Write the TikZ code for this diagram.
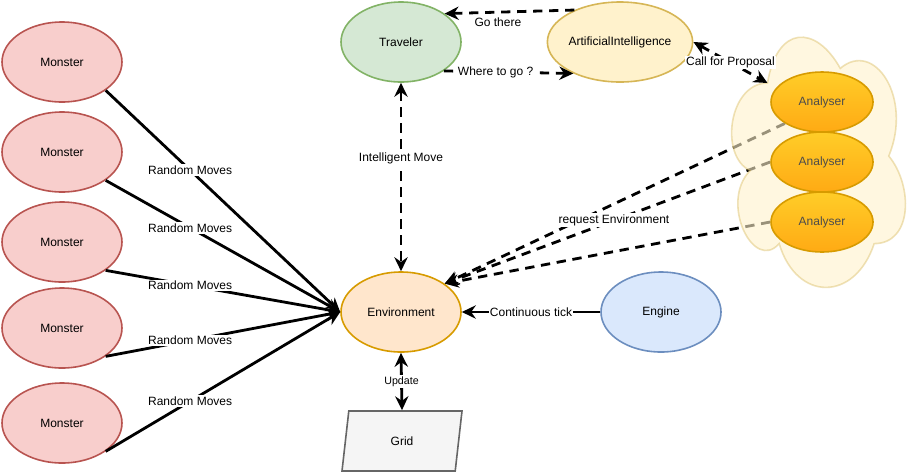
\documentclass[tikz,border=0pt]{standalone}
\usepackage{fontspec}
\setmainfont{Liberation Sans}
\usetikzlibrary{arrows.meta,shapes.geometric}
\definecolor{monfill}{HTML}{F8CECC}\definecolor{mondraw}{HTML}{B85450}
\definecolor{travfill}{HTML}{D5E8D4}\definecolor{travdraw}{HTML}{82B366}
\definecolor{aifill}{HTML}{FFF2CC}\definecolor{aidraw}{HTML}{D6B656}
\definecolor{envfill}{HTML}{FFE6CC}\definecolor{envdraw}{HTML}{D79B00}
\definecolor{engfill}{HTML}{DAE8FC}\definecolor{engdraw}{HTML}{6C8EBF}
\definecolor{gridfill}{HTML}{F5F5F5}\definecolor{griddraw}{HTML}{666666}
\definecolor{antop}{HTML}{FFCD28}\definecolor{anbot}{HTML}{FFAA14}
\pgfdeclarelayer{behind}
\pgfsetlayers{behind,main}
\tikzset{
  blob/.style={ellipse, line width=1.2pt, minimum width=90pt, minimum height=60pt,
    inner sep=0pt, font=\fontsize{9}{11}\selectfont},
  monster/.style={blob, draw=mondraw, fill=monfill},
  analyser/.style={blob, draw=envdraw, top color=antop, bottom color=anbot,
    minimum width=76.5pt, minimum height=45pt, text=black!70},
  link/.style={line width=2.1pt},
  dashy/.style={link, dash pattern=on 7pt off 5pt},
  tag/.style={fill=white, inner sep=1pt, font=\fontsize{9}{11}\selectfont}
}
\begin{document}
\begin{tikzpicture}[x=0.75pt, y=-0.75pt,
    >={Stealth[length=10.5pt,width=10pt,inset=3.5pt]}]
  \useasboundingbox (0,0) rectangle (912,472);
  % left column
  \node[monster] (m1) at (62,62) {Monster};
  \node[monster] (m2) at (62,152) {Monster};
  \node[monster] (m3) at (62,242) {Monster};
  \node[monster] (m4) at (62,328) {Monster};
  \node[monster] (m5) at (62,423) {Monster};
  % middle and top
  \node[blob, draw=travdraw, fill=travfill] (trav) at (401,42) {Traveler};
  \node[blob, draw=aidraw, fill=aifill] (ai) at (620,42) {ArtificialIntelligence};
  \node[blob, draw=envdraw, fill=envfill] (env) at (401,312) {Environment};
  \node[blob, draw=engdraw, fill=engfill] (eng) at (661,312) {Engine};
  \node[trapezium, trapezium left angle=69, trapezium right angle=111,
    trapezium stretches body, minimum width=90pt, minimum height=45pt,
    line width=1.2pt, draw=griddraw, fill=gridfill,
    font=\fontsize{9}{11}\selectfont] (grid) at (402,441) {Grid};
  % the cloud of analysers
  \begin{scope}[shift={(719,10)}, xscale=194, yscale=292]
    \filldraw[fill=aifill, fill opacity=0.6, draw=aidraw, draw opacity=0.4, line width=1.2pt]
      (0.25,0.25) .. controls (0.05,0.25) and (0,0.5) .. (0.16,0.55)
      .. controls (0,0.66) and (0.18,0.9) .. (0.31,0.8)
      .. controls (0.4,1) and (0.7,1) .. (0.8,0.8)
      .. controls (1,0.8) and (1,0.6) .. (0.875,0.5)
      .. controls (1,0.3) and (0.8,0.1) .. (0.625,0.2)
      .. controls (0.5,0.05) and (0.3,0.05) .. (0.25,0.25) -- cycle;
    \coordinate (cloudtip) at (0.25,0.25);
  \end{scope}
  \node[analyser] (an1) at (822,102) {Analyser};
  \node[analyser] (an2) at (822,162) {Analyser};
  \node[analyser] (an3) at (822,222) {Analyser};
  % connectors
  \foreach \m in {m1,m2,m3,m4,m5}
    \draw[link,->] (\m.-33) -- (env.west) node[tag, pos=0.36] {Random Moves};
  \draw[dashy,<->] (trav.south) -- (env.north) node[tag, pos=0.4] {Intelligent Move};
  \draw[link,<->] (env.south) -- (grid.north)
    node[tag, midway, font=\fontsize{8}{10}\selectfont] {Update};
  \draw[link,->] (eng.west) -- (env.east) node[tag, midway] {Continuous tick};
  \draw[dashy,->] (ai.145) -- (trav.33) node[tag, pos=0.59, below=2pt] {Go there};
  \draw[dashy,->] (trav.-34) -- (ai.214) node[tag, pos=0.4] {Where to go ?};
  \draw[dashy,<->] (ai.east) -- (cloudtip) node[tag, midway] {Call for Proposal};
  \begin{pgfonlayer}{behind}
    \draw[dashy,->] (an1.210) -- (env.33);
    \draw[dashy,->] (an2.west) -- (env.33) node[tag, pos=0.48] {request Environment};
    \draw[dashy,->] (an3.west) -- (env.33);
  \end{pgfonlayer}
\end{tikzpicture}
\end{document}
